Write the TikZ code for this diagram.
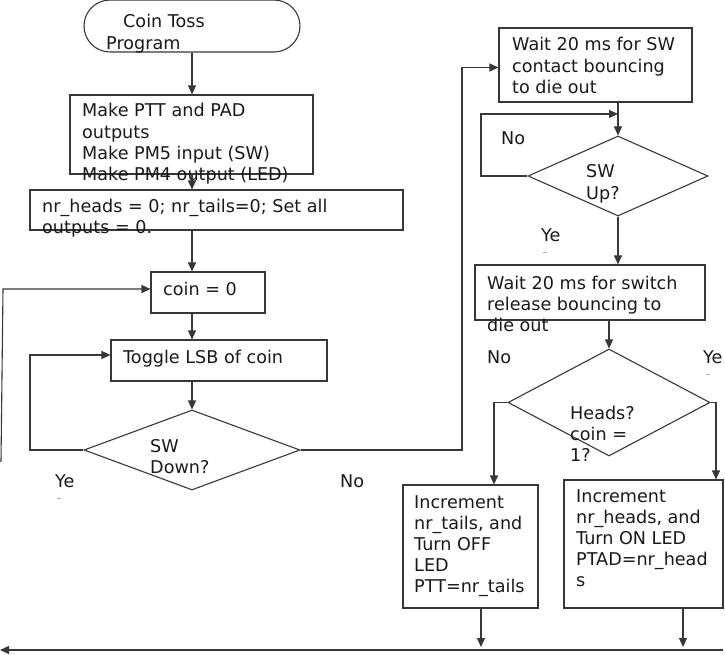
\documentclass[tikz,border=0pt]{standalone}
\usepackage{fontspec}
\setmainfont{DejaVu Sans}
\usetikzlibrary{shapes.geometric,arrows.meta}
\definecolor{ln}{RGB}{55,55,55}
\definecolor{tx}{RGB}{25,25,25}
\newcommand{\mltext}[1]{\begin{tabular}[t]{@{}l@{}}#1\end{tabular}}
\begin{document}
\begin{tikzpicture}[x=1pt,y=-1pt,
  box/.style={draw=ln,line width=1.1pt,rectangle,inner sep=0pt},
  dia/.style={draw=ln,line width=1.1pt,diamond,inner sep=0pt},
  txt/.style={inner sep=0pt,anchor=base west,text=tx,font=\fontsize{17.6}{21.2}\selectfont},
  arr/.style={draw=ln,line width=1.1pt,-{Triangle[length=9pt,width=8pt]}},
  ln/.style={draw=ln,line width=1.1pt},
  frag/.style={draw=gray!60,line width=1pt}]
\useasboundingbox (0,0) rectangle (725,655);
% shapes
\node[box,rounded corners=26pt,minimum width=216pt,minimum height=52pt] (start) at (192,26) {};
\node[box,minimum width=243pt,minimum height=79pt] (init1) at (191.5,134.5) {};
\node[box,minimum width=373pt,minimum height=40pt] (init2) at (216.5,210) {};
\node[box,minimum width=114pt,minimum height=41pt] (coin) at (208,292.5) {};
\node[box,minimum width=216pt,minimum height=41pt] (toggle) at (219,360.5) {};
\node[dia,minimum width=216pt,minimum height=80pt] (swdown) at (192,450) {};
\node[box,minimum width=193pt,minimum height=74pt] (wait1) at (595.5,65) {};
\node[dia,minimum width=180pt,minimum height=80pt] (swup) at (618,176) {};
\node[box,minimum width=230pt,minimum height=55pt] (wait2) at (590,292.5) {};
\node[dia,minimum width=202pt,minimum height=107pt] (heads) at (609,402.5) {};
\node[box,minimum width=135pt,minimum height=123pt] (tbox) at (470.5,546.5) {};
\node[box,minimum width=159pt,minimum height=128pt] (hbox) at (643.5,544) {};
% texts
\node[txt] (tstart) at (106,28) {\mltext{\hspace{17pt}Coin Toss\\Program}};
\node[txt] (tinit1) at (82,117) {\mltext{Make PTT and PAD\\outputs\\Make PM5 input (SW)\\Make PM4 output (LED)}};
\node[txt] (tinit2) at (42,212) {\mltext{nr\_heads = 0; nr\_tails=0; Set all\\outputs = 0.}};
\node[txt] (tcoin) at (163,295) {coin = 0};
\node[txt] (ttoggle) at (123,363) {Toggle LSB of coin};
\node[txt] (tswdown) at (150,452) {\mltext{SW\\Down?}};
\node[txt] (twait1) at (512,51) {\mltext{Wait 20 ms for SW\\contact bouncing\\to die out}};
\node[txt] (tswup) at (586,178) {\mltext{SW\\Up?}};
\node[txt] (twait2) at (487,289) {\mltext{Wait 20 ms for switch\\release bouncing to\\die out}};
\node[txt] (theads) at (570,419) {\mltext{Heads?\\coin =\\1?}};
\node[txt] (ttbox) at (414,508) {\mltext{Increment\\nr\_tails, and\\Turn OFF\\LED\\PTT=nr\_tails}};
\node[txt] (thbox) at (576,502) {\mltext{Increment\\nr\_heads, and\\Turn ON LED\\PTAD=nr\_head\\s}};
% labels
\node[txt] (lyes1) at (55,487) {Ye};
\node[txt] (lno1) at (340,487) {No};
\node[txt] (lno2) at (501,145) {No};
\node[txt] (lyes2) at (541,241) {Ye};
\node[txt] (lno3) at (487,363) {No};
\node[txt] (lyes3) at (703,363) {Ye};
\draw[frag] (57,498) -- (61,498);
\draw[frag] (543,252) -- (547,252);
\draw[frag] (706,374) -- (710,374);
% helper coordinates
\coordinate (ax) at (192,0);
\coordinate (b1) at (30,450);
\coordinate (b2) at (462,450);
\coordinate (b3) at (481,114);
\coordinate (br) at (723,650);
\coordinate (bl) at (0,650);
\coordinate (lb) at (1,462);
\coordinate (lt) at (3,289);
% connectors
\draw[arr] (start.south) -- (ax |- init1.north);
\draw[arr] (ax |- init1.south) -- (ax |- init2.north);
\draw[arr] (ax |- init2.south) -- (ax |- coin.north);
\draw[arr] (ax |- coin.south) -- (ax |- toggle.north);
\draw[arr] (swdown.north |- toggle.south) -- (swdown.north);
\draw[arr] (swdown.west) -- (b1) |- ([yshift=5.5pt]toggle.west);
\draw[arr] (swdown.east) -- (b2) |- ([yshift=-2.5pt]wait1.west);
\draw[arr] (swup.north |- wait1.south) -- (swup.north);
\draw[arr] (swup.west) -| (b3) -- (b3 -| swup.north);
\draw[arr] (swup.south) -- (swup.south |- wait2.north);
\draw[arr] (heads.north |- wait2.south) -- (heads.north);
\draw[arr] (heads.west) -| ([xshift=23.5pt]tbox.north);
\draw[arr] (heads.east) -| ([xshift=72.5pt]hbox.north);
\draw[arr] ([xshift=10.5pt]tbox.south) -- ([xshift=10.5pt,yshift=3pt]tbox.south |- br);
\draw[arr] ([xshift=39.5pt]hbox.south) -- ([xshift=39.5pt,yshift=3pt]hbox.south |- br);
\draw[arr] (br) -- (bl);
\draw[arr] (lb) -- (lt) -- ([yshift=3.5pt]coin.west);
\end{tikzpicture}
\end{document}
